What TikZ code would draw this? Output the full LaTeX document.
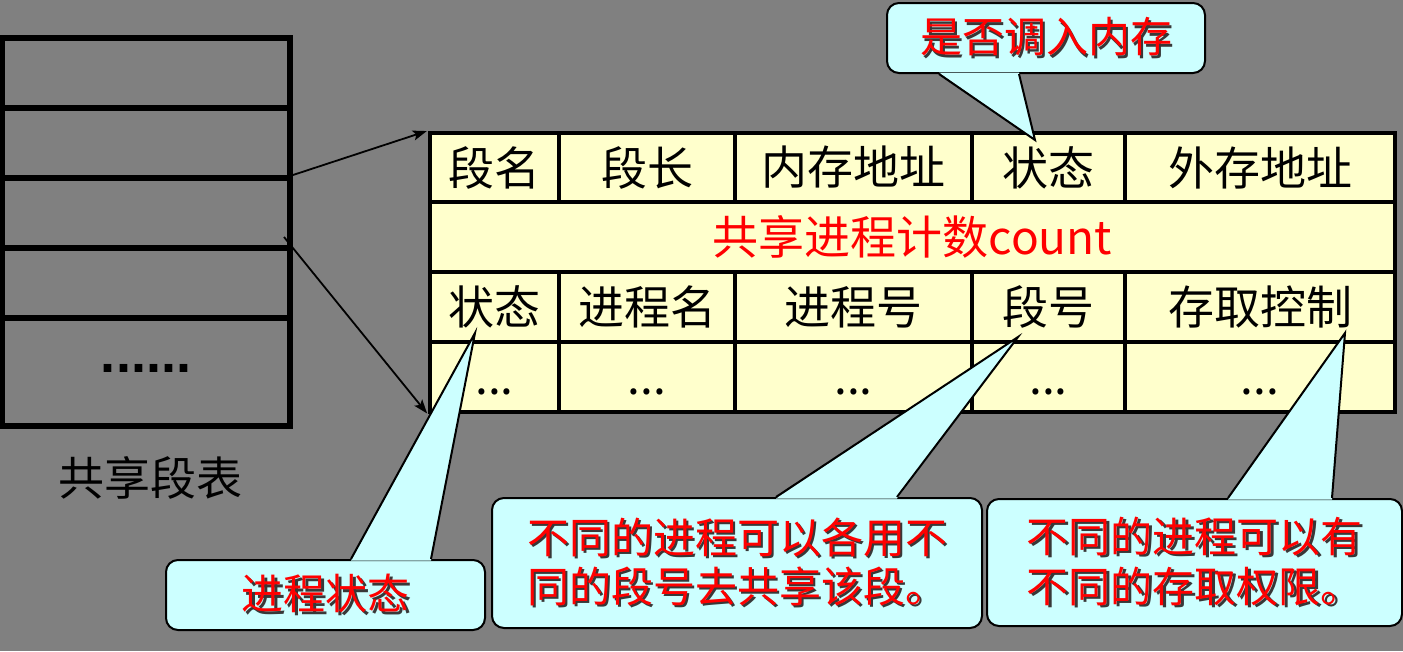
\documentclass[tikz,border=0pt]{standalone}
\usepackage{fontspec}
\setmainfont{Noto Sans CJK SC}
\newfontfamily\dotfont{Liberation Sans}
\usetikzlibrary{arrows.meta,calc}

\definecolor{bggray}{HTML}{808080}
\definecolor{cellyellow}{HTML}{FFFFCC}
\definecolor{calloutcyan}{HTML}{CCFFFF}
\definecolor{notered}{HTML}{FF0000}
\definecolor{shadowgray}{HTML}{383838}

% red text with a dark drop shadow
\newcommand\shline[1]{\makebox[0pt][l]{\hspace{2.5pt}\raisebox{-2.5pt}{\textcolor{shadowgray}{#1}}}\textcolor{notered}{#1}}

\tikzset{
  lrow/.style={draw=black, line width=6pt, minimum width=288pt, inner sep=0pt},
  cell/.style={draw=black, fill=cellyellow, line width=4.5pt, inner sep=0pt,
               font=\fontsize{46pt}{52pt}\selectfont},
  dotcell/.style={cell, text height=34pt, text depth=0pt},
  link/.style={draw=black, line width=1.8pt, -{Stealth[length=14pt,width=10pt,inset=3pt]}},
  callout/.style={draw=black, fill=calloutcyan, line width=2pt, rounded corners=12pt, inner sep=0pt},
  pointer fill/.style={fill=calloutcyan},
  pointer edge/.style={draw=black, line width=2pt, line join=miter},
}

\begin{document}
\begin{tikzpicture}[x=1pt, y=-1pt]
  % page background
  \fill[bggray] (0,0) rectangle (1403,651);
  \useasboundingbox (0,0) rectangle (1403,651);

  % shared segment table (left)
  \node[lrow, minimum height=70pt]  (L1) at (146,73)  {};
  \node[lrow, minimum height=70pt]  (L2) at (146,143) {};
  \node[lrow, minimum height=70pt]  (L3) at (146,213) {};
  \node[lrow, minimum height=70pt]  (L4) at (146,283) {};
  \node[lrow, minimum height=108pt] (L5) at (146,372)
       {\raisebox{7pt}{\dotfont\bfseries\fontsize{54pt}{60pt}\selectfont ......}};
  \node[font=\fontsize{46pt}{52pt}\selectfont] (cap) at (150,478) {共享段表};

  % entry of the shared segment table (right)
  \node[cell, minimum width=129pt, minimum height=69pt] (H1) at (494.5,167.5)  {段名};
  \node[cell, minimum width=176pt, minimum height=69pt] (H2) at (647,167.5)    {段长};
  \node[cell, minimum width=237pt, minimum height=69pt] (H3) at (853.5,167.5)  {内存地址};
  \node[cell, minimum width=153pt, minimum height=69pt] (H4) at (1048.5,167.5) {状态};
  \node[cell, minimum width=270pt, minimum height=69pt] (H5) at (1260,167.5)   {外存地址};

  \node[cell, minimum width=965pt, minimum height=70pt, text=notered] (CNT) at (912.5,237) {共享进程计数count};

  \node[cell, minimum width=129pt, minimum height=70pt] (P1) at (494.5,307)  {状态};
  \node[cell, minimum width=176pt, minimum height=70pt] (P2) at (647,307)    {进程名};
  \node[cell, minimum width=237pt, minimum height=70pt] (P3) at (853.5,307)  {进程号};
  \node[cell, minimum width=153pt, minimum height=70pt] (P4) at (1048.5,307) {段号};
  \node[cell, minimum width=270pt, minimum height=70pt] (P5) at (1260,307)   {存取控制};

  \node[dotcell, minimum width=129pt, minimum height=70pt] (D1) at (494.5,377)  {...};
  \node[dotcell, minimum width=176pt, minimum height=70pt] (D2) at (647,377)    {...};
  \node[dotcell, minimum width=237pt, minimum height=70pt] (D3) at (853.5,377)  {...};
  \node[dotcell, minimum width=153pt, minimum height=70pt] (D4) at (1048.5,377) {...};
  \node[dotcell, minimum width=270pt, minimum height=70pt] (D5) at (1260,377)   {...};

  % links from the table rows to the entry
  \coordinate (a2s) at (284,237);
  \draw[link, shorten >=1pt] (L3.north east) -- (H1.north west);
  \draw[link, shorten >=1pt] (a2s) -- (D1.south west);

  % callout: 是否调入内存
  \node[callout, minimum width=318pt, minimum height=70pt,
        font=\fontsize{42pt}{50pt}\selectfont] (C1) at (1046,38) {\shline{是否调入内存}};
  \coordinate (t1) at (1035,140);
  \fill[pointer fill] ($(C1.south west)+(53,-1.5)$) -- (t1) -- ($(C1.south west)+(133,-1.5)$) -- cycle;
  \draw[pointer edge] ($(C1.south west)+(53,0)$) -- (t1) -- ($(C1.south west)+(133,0)$);

  % callout: 进程状态
  \node[callout, minimum width=319pt, minimum height=70pt,
        font=\fontsize{42pt}{50pt}\selectfont] (C2) at (325.5,595) {\shline{进程状态}};
  \coordinate (t2) at (475,333);
  \fill[pointer fill] ($(C2.north west)+(186,1.5)$) -- (t2) -- ($(C2.north west)+(266,1.5)$) -- cycle;
  \draw[pointer edge] ($(C2.north west)+(186,0)$) -- (t2) -- ($(C2.north west)+(266,0)$);

  % callout: 段号
  \node[callout, minimum width=490pt, minimum height=130pt, align=left,
        font=\fontsize{42pt}{49pt}\selectfont] (C3) at (737,563)
       {\shline{不同的进程可以各用不}\\\shline{同的段号去共享该段。}};
  \coordinate (t3) at (1018,337);
  \fill[pointer fill] ($(C3.north west)+(285,1.5)$) -- (t3) -- ($(C3.north west)+(406,1.5)$) -- cycle;
  \draw[pointer edge] ($(C3.north west)+(285,0)$) -- (t3) -- ($(C3.north west)+(406,0)$);

  % callout: 存取控制
  \node[callout, minimum width=415pt, minimum height=127pt, align=left,
        font=\fontsize{42pt}{50pt}\selectfont] (C4) at (1194.5,562.5)
       {\shline{不同的进程可以有}\\\shline{不同的存取权限。}};
  \coordinate (t4) at (1345,333);
  \fill[pointer fill] ($(C4.north west)+(242,1.5)$) -- (t4) -- ($(C4.north west)+(346,1.5)$) -- cycle;
  \draw[pointer edge] ($(C4.north west)+(242,0)$) -- (t4) -- ($(C4.north west)+(346,0)$);
\end{tikzpicture}
\end{document}
